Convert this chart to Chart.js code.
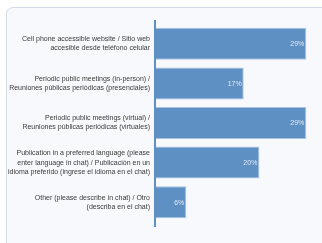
<!DOCTYPE html>
<html>
<head>
<meta charset="utf-8">
<script src="https://cdn.jsdelivr.net/npm/chart.js@4"></script>
<style>
  html, body { margin: 0; padding: 0; background: #ffffff; width: 322px; height: 243px; overflow: hidden; }
  .card {
    position: absolute; left: 6px; top: 7px; width: 340px; height: 260px;
    border: 1.5px solid #d3dbe7; border-radius: 7px; background: #f7f9fc;
    box-sizing: border-box;
  }
  #wrap { position: absolute; left: 0; top: 0; width: 322px; height: 243px; }
</style>
</head>
<body>
<div class="card"></div>
<div id="wrap"><canvas id="chart" width="322" height="243"></canvas></div>
<script>
// ── data ──
const categories = [
  ['Cell phone accessible website / Sitio web', 'accesible desde teléfono celular'],
  ['Periodic public meetings (in-person) /', 'Reuniones públicas periódicas (presenciales)'],
  ['Periodic public meetings (virtual) /', 'Reuniones públicas periódicas (virtuales)'],
  ['Publication in a preferred language (please', 'enter language in chat) / Publicación en un', 'idioma preferido (ingrese el idioma en el chat)'],
  ['Other (please describe in chat) / Otro', '(describa en el chat)']
];
const percentValues = [29, 17, 29, 20, 6];

const barColor = '#5f90c3';
const barEdge = '#a9c5e2';
const labelFont = "'Liberation Sans', 'DejaVu Sans Condensed', sans-serif";

// value labels inside bar ends
const valueLabels = {
  id: 'valueLabels',
  afterDatasetsDraw(chart) {
    const ctx = chart.ctx;
    const meta = chart.getDatasetMeta(0);
    ctx.save();
    ctx.font = '7px ' + labelFont;
    ctx.fillStyle = '#e1e9f4';
    ctx.textAlign = 'right';
    ctx.textBaseline = 'middle';
    meta.data.forEach((bar, i) => {
      ctx.fillText(percentValues[i] + '%', bar.x - 2, bar.y + 0.5);
    });
    ctx.restore();
  }
};

// axis line, a bit longer than the category band
const axisLine = {
  id: 'axisLine',
  afterDatasetsDraw(chart) {
    const { ctx, chartArea } = chart;
    ctx.save();
    ctx.strokeStyle = barColor;
    ctx.lineWidth = 2;
    ctx.beginPath();
    ctx.moveTo(chartArea.left, chartArea.top - 4);
    ctx.lineTo(chartArea.left, chartArea.bottom + 5);
    ctx.stroke();
    ctx.restore();
  }
};

new Chart(document.getElementById('chart').getContext('2d'), {
  type: 'bar',
  data: {
    labels: categories,
    datasets: [{
      data: percentValues,
      backgroundColor: barColor,
      borderColor: barEdge,
      borderWidth: 1,
      categoryPercentage: 0.85,
      barPercentage: 0.95
    }]
  },
  options: {
    indexAxis: 'y',
    responsive: false,
    animation: false,
    layout: { padding: { top: 24, bottom: 21, left: 0, right: 0 } },
    scales: {
      x: { display: false, min: 0, max: 32 },
      y: {
        grid: { display: false, drawTicks: false },
        border: { display: false },
        afterFit(scale) { scale.width = 155; },
        ticks: {
          padding: 5,
          color: '#3a3a3a',
          font: { size: 7, family: labelFont, lineHeight: 1.3 }
        }
      }
    },
    plugins: {
      legend: { display: false },
      tooltip: { enabled: false }
    }
  },
  plugins: [valueLabels, axisLine]
});
</script>
</body>
</html>
